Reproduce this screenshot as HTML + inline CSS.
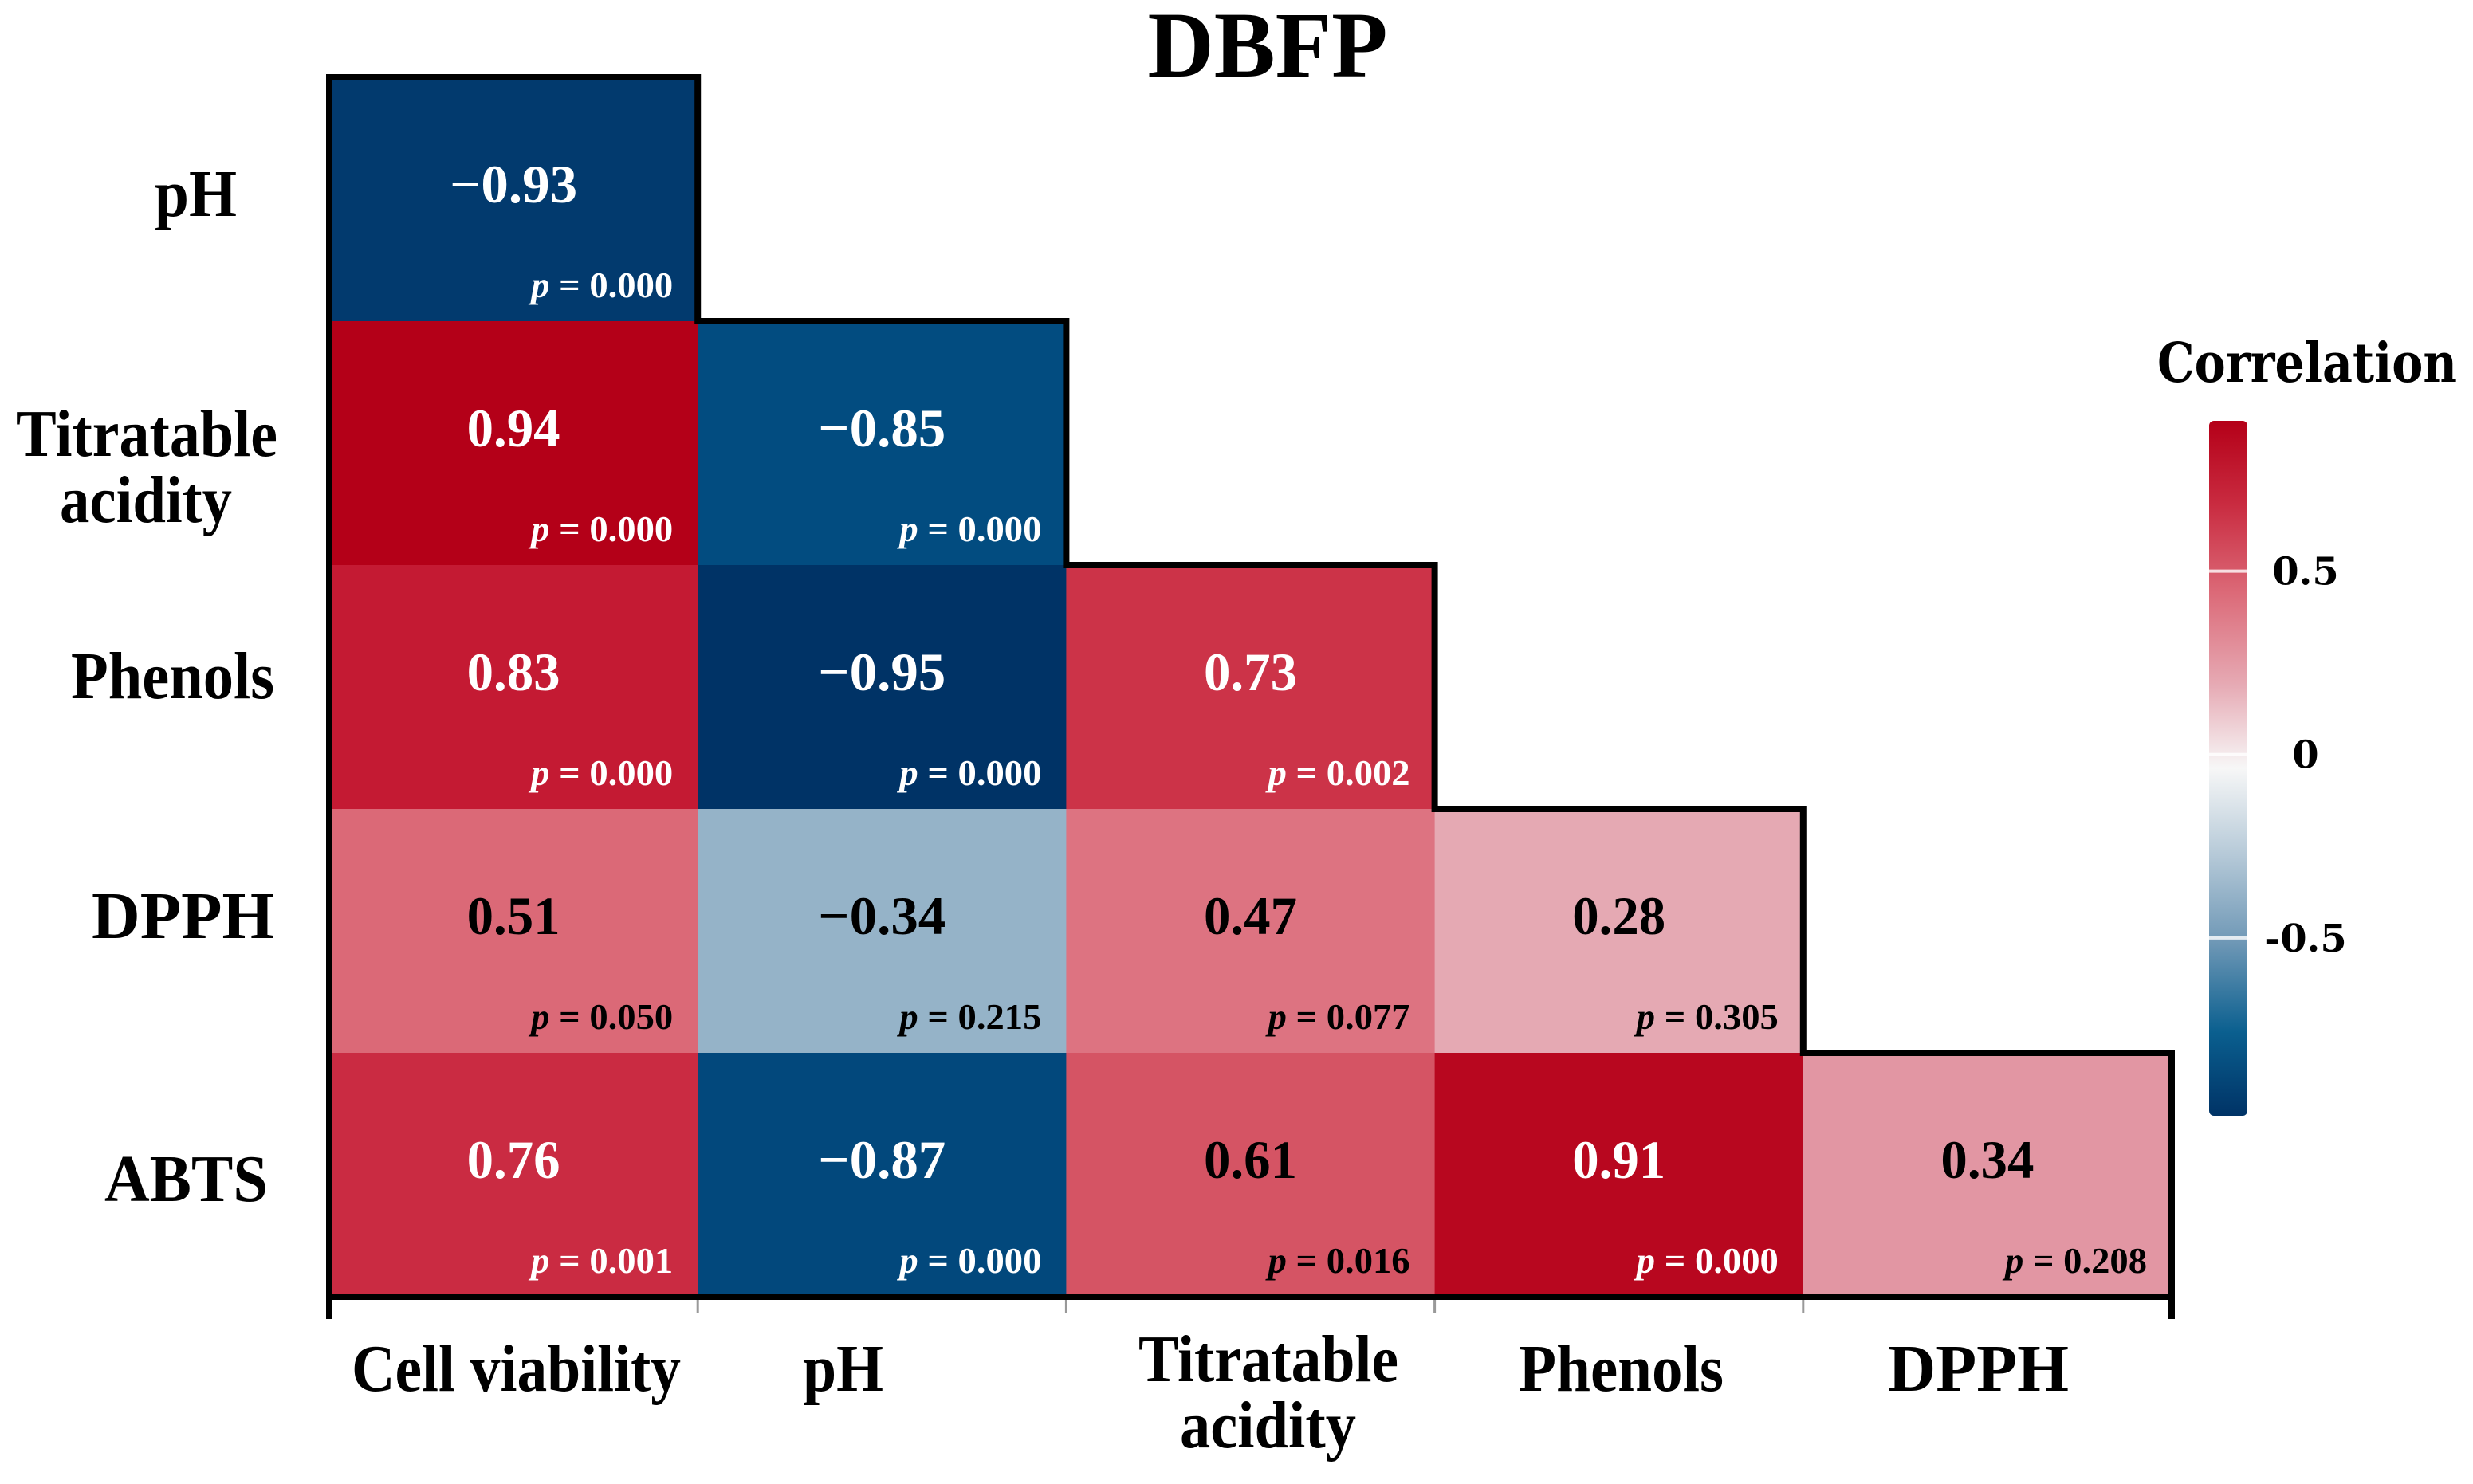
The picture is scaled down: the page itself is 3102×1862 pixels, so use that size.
<!DOCTYPE html>
<html><head><meta charset="utf-8"><style>
html,body{margin:0;padding:0;background:#fff;}
svg{display:block;}
text{font-family:"Liberation Serif",serif;font-weight:bold;}
</style></head><body>
<svg id="chart" width="3102" height="1862" viewBox="0 0 3102 1862" xmlns="http://www.w3.org/2000/svg">
<defs>
<linearGradient id="cbgrad" x1="0" y1="1" x2="0" y2="0">
<stop offset="0" stop-color="#003366"/>
<stop offset="0.12" stop-color="#0a5f8f"/>
<stop offset="0.25" stop-color="#6f98b6"/>
<stop offset="0.38" stop-color="#b8cbd9"/>
<stop offset="0.5" stop-color="#f7f7f7"/>
<stop offset="0.62" stop-color="#e6aab4"/>
<stop offset="0.75" stop-color="#dc6b79"/>
<stop offset="0.88" stop-color="#c92b40"/>
<stop offset="1" stop-color="#b40018"/>
</linearGradient>
</defs>
<text x="1590" y="96" font-size="118" text-anchor="middle" textLength="301" lengthAdjust="spacingAndGlyphs">DBFP</text>
<g id="cells"></g>
<g id="labels"></g>
<path id="outline" fill="none" stroke="#000" stroke-width="8"/>
<g id="legend"></g>
</svg>
<script>
const rowLabels = [["pH"],["Titratable","acidity"],["Phenols"],["DPPH"],["ABTS"]];
const colLabels = [["Cell viability"],["pH"],["Titratable","acidity"],["Phenols"],["DPPH"]];
const corrPH = [-0.93];
const corrTA = [0.94, -0.85];
const corrPhenols = [0.83, -0.95, 0.73];
const corrDPPH = [0.51, -0.34, 0.47, 0.28];
const corrABTS = [0.76, -0.87, 0.61, 0.91, 0.34];
const pPH = ["0.000"];
const pTA = ["0.000","0.000"];
const pPhenols = ["0.000","0.000","0.002"];
const pDPPH = ["0.050","0.215","0.077","0.305"];
const pABTS = ["0.001","0.000","0.016","0.000","0.208"];
const legendTicks = [0.5, 0, -0.5];
const legendTickLabels = ["0.5","0","-0.5"];
const legendMin = -0.985, legendMax = 0.91;

// layout (text geometry)
const rowLabelBoxes = [[[194,297,271]],[[20,348,572],[75,291,655]],[[89,344,876]],[[115,344,1177]],[[131,336,1507]]];
const colLabelBoxes = [[[441,854,1745]],[[1007,1108,1745]],[[1428,1754,1733],[1480,1701,1816]],[[1905,2162,1745]],[[2368,2595,1745]]];

const corr = [corrPH, corrTA, corrPhenols, corrDPPH, corrABTS];
const pvals = [pPH, pTA, pPhenols, pDPPH, pABTS];
const NS = "http://www.w3.org/2000/svg";
const X0 = 413, CW = 462.2, Y0 = 97, RH = 306;
const xPos = i => X0 + i*CW;
const yPos = j => Y0 + j*RH;
const posStops = [[0,[247,247,247]],[0.28,[229,169,179]],[0.34,[226,150,163]],[0.5,[220,107,121]],[0.61,[213,84,100]],[0.73,[204,51,72]],[0.83,[196,26,51]],[0.94,[180,0,24]],[1,[176,0,22]]];
const negStops = [[0,[247,247,247]],[0.34,[149,179,200]],[0.5,[111,152,182]],[0.75,[11,94,142]],[0.85,[2,76,128]],[0.93,[2,58,110]],[0.95,[0,51,102]],[1,[0,48,96]]];
function color(v){
  const st = v>=0?posStops:negStops; const a=Math.abs(v);
  for(let k=1;k<st.length;k++){ if(a<=st[k][0]){ const t=(a-st[k-1][0])/(st[k][0]-st[k-1][0]);
    const c=st[k-1][1].map((x,q)=>Math.round(x+(st[k][1][q]-x)*t)); return `rgb(${c})`; } }
  return `rgb(${st[st.length-1][1]})`;
}
function mk(tag, attrs, parent, txt){ const e=document.createElementNS(NS,tag); for(const k in attrs) e.setAttribute(k,attrs[k]); if(txt!==undefined) e.textContent=txt; parent.appendChild(e); return e; }
const cellsG=document.getElementById('cells'), labG=document.getElementById('labels');
corr.forEach((row,j)=>{
  row.forEach((v,i)=>{
    const r=mk('rect',{x:xPos(i),y:yPos(j),width:CW+1,height:RH+1,fill:color(v)},cellsG);
    
    
    const fc = Math.abs(v)>0.65?'#fff':'#000';
    const s=(v<0?'\u2212':'')+Math.abs(v).toFixed(2);
    const t=mk('text',{x:xPos(i)+CW/2,y:yPos(j)+157,'font-size':68,'text-anchor':'middle',fill:fc,textLength:(v<0?160:117),lengthAdjust:'spacingAndGlyphs'},cellsG,s);
    
    
    const p=mk('text',{x:xPos(i)+CW-31,y:yPos(j)+276,'font-size':46,'text-anchor':'end',fill:fc,textLength:178,lengthAdjust:'spacingAndGlyphs'},cellsG);
    
    
    mk('tspan',{'font-style':'italic'},p,'p');
    mk('tspan',{},p,' = '+pvals[j][i]);
  });
});
rowLabels.forEach((lines,j)=>{
  lines.forEach((ln,k)=>{
    const b=rowLabelBoxes[j][k];
    const t=mk('text',{x:b[0],y:b[2],'font-size':84,textLength:b[1]-b[0],lengthAdjust:'spacingAndGlyphs'},labG,ln);
    
    
  });
});
colLabels.forEach((lines,i)=>{
  lines.forEach((ln,k)=>{
    const b=colLabelBoxes[i][k];
    const t=mk('text',{x:b[0],y:b[2],'font-size':84,textLength:b[1]-b[0],lengthAdjust:'spacingAndGlyphs'},labG,ln);
    
    
  });
});
const n=corr.length, yB=yPos(n);
for(let i=1;i<n;i++){ const tk=mk('line',{x1:xPos(i),y1:yB,x2:xPos(i),y2:yB+20,stroke:'#999','stroke-width':3},labG);
    }
let d=`M${xPos(0)},${yB+28} L${xPos(0)},${yPos(0)}`;
for(let j=0;j<n;j++){ d+=` L${xPos(j+1)},${yPos(j)} L${xPos(j+1)},${yPos(j+1)}`; }
d+=` L${xPos(n)},${yB+28} M${xPos(0)},${yB} L${xPos(n)},${yB}`;
document.getElementById('outline').setAttribute('d',d);
const lg=document.getElementById('legend');
const CBX=2771, CBW=48, CBT=528, CBB=1400;
const ly=v=>CBB-(v-legendMin)/(legendMax-legendMin)*(CBB-CBT);
const lt=mk('text',{x:2894,y:479,'font-size':68,'text-anchor':'middle',style:'font-family:"DejaVu Serif",serif',textLength:376,lengthAdjust:'spacingAndGlyphs'},lg,'Correlation');
 
const bar=mk('rect',{x:CBX,y:CBT,width:CBW,height:CBB-CBT,rx:6,fill:'url(#cbgrad)'},lg);
 
legendTicks.forEach((v,k)=>{
  const yy=ly(v);
  const ln=mk('line',{x1:CBX,x2:CBX+CBW,y1:yy,y2:yy,stroke:'#fff','stroke-width':4,'stroke-opacity':0.8},lg);
   
  const t=mk('text',{x:2892,y:yy+17,'font-size':48,'text-anchor':'middle',style:'font-family:"DejaVu Serif",serif'},lg,legendTickLabels[k]);
   
});
</script>
</body></html>
